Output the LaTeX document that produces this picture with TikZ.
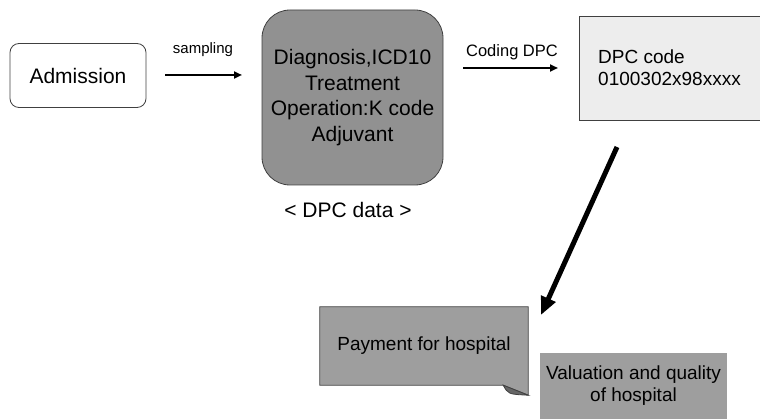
\documentclass[tikz,border=0pt]{standalone}
\usepackage{fontspec}
\setmainfont{Liberation Sans}
\usetikzlibrary{arrows.meta}

\begin{document}
\begin{tikzpicture}[x=1pt,y=-1pt,
    box/.style={draw=kGrey,line width=0.8pt,inner sep=0pt},
    big/.style={font=\fontsize{21}{25.5}\selectfont},
    mid/.style={font=\fontsize{19}{22}\selectfont},
    small/.style={font=\fontsize{15}{18}\selectfont},
    thin arrow/.style={line width=2pt,-{Triangle[length=8pt,width=7pt]}},
    thick arrow/.style={line width=5pt,-{Triangle[length=18pt,width=15pt]}}]
  \definecolor{kGrey}{rgb}{0.25,0.25,0.25}
  \definecolor{dataGrey}{rgb}{0.57,0.57,0.57}
  \definecolor{noteGrey}{rgb}{0.62,0.62,0.62}
  \definecolor{foldGrey}{rgb}{0.40,0.40,0.40}
  \definecolor{codeGrey}{rgb}{0.93,0.93,0.93}

  \useasboundingbox (0,0) rectangle (760,419);

  % boxes
  \node[box,big,rounded corners=9pt,minimum width=136pt,minimum height=64pt]
    (adm) at (78,75.5) {Admission};
  \node[box,big,fill=dataGrey,rounded corners=28pt,align=center,
        minimum width=181pt,minimum height=175pt]
    (data) at (352.5,97.5) {Diagnosis,ICD10\\Treatment\\Operation:K code\\Adjuvant};
  \node[big] (datalbl) at (348,210) {< DPC data >};
  \node[box,mid,fill=codeGrey,align=left,minimum width=181pt,minimum height=104pt]
    (code) at (669.5,68) {DPC code\\0100302x98xxxx};

  % notes with folded corner
  \node[mid,minimum width=208pt,minimum height=78pt,inner sep=0pt]
    (pay) at (424,346) {};
  \fill[noteGrey,draw=kGrey,line width=0.8pt]
    (pay.north west) -- (pay.north east) -- ([yshift=-10pt]pay.south east)
    -- ([xshift=-25pt]pay.south east) -- (pay.south west) -- cycle;
  \fill[foldGrey,draw=kGrey,line width=0.8pt]
    ([xshift=-25pt]pay.south east) .. controls ([xshift=-20pt,yshift=-9pt]pay.south east)
    .. ([yshift=-10pt]pay.south east) -- cycle;
  \node[mid] at (pay) {Payment for hospital};

  \node[mid,fill=noteGrey,align=center,minimum width=187pt,minimum height=66pt,inner sep=0pt]
    (val) at (633.5,386) {Valuation and quality\\of hospital};

  % arrows
  \coordinate (s1) at (165,75);
  \coordinate (s2) at (242,75);
  \draw[thin arrow] (s1) -- (s2);
  \node[small] (smp) at (203,50) {sampling};

  \coordinate (c1) at (463,68);
  \coordinate (c2) at (558,68);
  \draw[thin arrow] (c1) -- (c2);
  \node[small,font=\fontsize{16.5}{19}\selectfont] (cod) at (512,52) {Coding DPC};

  \coordinate (p1) at (617,147);
  \coordinate (p2) at (541,315);
  \draw[thick arrow] (p1) -- (p2);

\end{tikzpicture}
\end{document}
